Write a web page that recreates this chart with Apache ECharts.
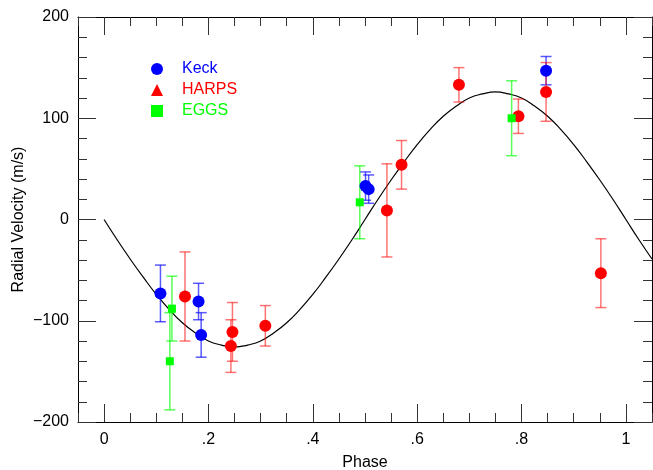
<!DOCTYPE html>
<html>
<head>
<meta charset="utf-8">
<script src="https://cdn.jsdelivr.net/npm/echarts@6/dist/echarts.min.js"></script>
<style>
html,body{margin:0;padding:0;background:#fff;}
#chart{width:653px;height:470px;}
</style>
</head>
<body>
<div id="chart"></div>
<script>
// ---- data ----
var keckPhase = [0.108, 0.181, 0.186, 0.501, 0.507, 0.847];
var keckRV    = [-73, -81, -114, 33, 30, 147];
var keckErr   = [28, 18, 22, 14, 14, 14];

var harpsPhase = [0.155, 0.243, 0.246, 0.309, 0.542, 0.570, 0.680, 0.794, 0.847, 0.952];
var harpsRV    = [-76, -125, -111, -105, 9, 54, 133, 102, 126, -53];
var harpsErr   = [44, 26, 29, 20, 46, 24, 17, 17, 29, 34];

var eggsPhase = [0.126, 0.130, 0.490, 0.781];
var eggsRV    = [-140, -88, 17, 100];
var eggsErr   = [48, 32, 36, 37];

var modelPhase = [0, 0.025, 0.05, 0.075, 0.1, 0.125, 0.15, 0.175, 0.2, 0.225, 0.25, 0.275, 0.3, 0.325, 0.35, 0.375, 0.4, 0.425, 0.45, 0.475, 0.5, 0.525, 0.55, 0.575, 0.6, 0.625, 0.65, 0.675, 0.7, 0.725, 0.75, 0.775, 0.8, 0.825, 0.85, 0.875, 0.9, 0.925, 0.95, 0.975, 1.0, 1.025, 1.05];
var modelRV    = [0, -20, -39, -57, -74, -89, -102, -112, -120, -124, -126, -124, -120, -112, -102, -89, -74, -57, -39, -20, 0, 20, 39, 57, 74, 89, 102, 112, 120, 124, 126, 124, 120, 112, 102, 89, 74, 57, 39, 20, 0, -20, -39];

var xMajorTicks = [0, 0.2, 0.4, 0.6, 0.8, 1];
var xTickLabels = ['0', '.2', '.4', '.6', '.8', '1'];

// ---- helpers ----
function zip(a, b) { return a.map(function (v, i) { return [v, b[i]]; }); }
function errData(p, v, e) { return p.map(function (x, i) { return [x, v[i] - e[i], v[i] + e[i]]; }); }

var FONT = "'Liberation Sans', Arial, sans-serif";

function errSeries(name, p, v, e, color) {
  return {
    name: name + ' err',
    type: 'custom',
    xAxisIndex: 0, yAxisIndex: 0,
    z: 2,
    silent: true,
    data: errData(p, v, e),
    renderItem: function (params, api) {
      var lo = api.coord([api.value(0), api.value(1)]);
      var hi = api.coord([api.value(0), api.value(2)]);
      var hw = 5.5;
      var st = { stroke: color, lineWidth: 1.5 };
      return {
        type: 'group',
        children: [
          { type: 'line', shape: { x1: lo[0], y1: lo[1], x2: hi[0], y2: hi[1] }, style: st },
          { type: 'line', shape: { x1: lo[0] - hw, y1: lo[1], x2: lo[0] + hw, y2: lo[1] }, style: st },
          { type: 'line', shape: { x1: hi[0] - hw, y1: hi[1], x2: hi[0] + hw, y2: hi[1] }, style: st }
        ]
      };
    }
  };
}

var labelMap = {};
xMajorTicks.forEach(function (t, i) { labelMap[t.toFixed(2)] = xTickLabels[i]; });

function xAxisCfg(pos, major, showLabel) {
  var cfg = {
    type: 'value', min: -0.05, max: 1.05, position: pos,
    axisLine: { show: major, onZero: false, lineStyle: { color: '#000', width: 1 } },
    splitLine: { show: false },
    axisTick: { inside: true, length: major ? 18 : 9, lineStyle: { color: '#333', width: 1 } },
    axisLabel: { show: false }
  };
  if (major) {
    cfg.axisTick.customValues = xMajorTicks;
    if (showLabel) {
      cfg.axisLabel = {
        show: true, customValues: xMajorTicks, margin: 10,
        fontFamily: FONT, fontSize: 16, color: '#000',
        formatter: function (v) { return labelMap[Number(v).toFixed(2)]; }
      };
      cfg.name = 'Phase';
      cfg.nameLocation = 'middle';
      cfg.nameGap = 33;
      cfg.nameMoveOverlap = false;
      cfg.nameTextStyle = { fontFamily: FONT, fontSize: 16, color: '#000' };
    }
  } else {
    cfg.interval = 0.05;
  }
  return cfg;
}

function yAxisCfg(pos, showLabel) {
  var cfg = {
    type: 'value', min: -200, max: 200, interval: 100, position: pos,
    axisLine: { show: true, onZero: false, lineStyle: { color: '#000', width: 1 } },
    splitLine: { show: false },
    axisTick: { inside: true, length: 18, lineStyle: { color: '#333', width: 1 } },
    minorTick: { show: true, splitNumber: 5, length: 9, lineStyle: { color: '#333', width: 1 } },
    minorSplitLine: { show: false },
    axisLabel: { show: false }
  };
  if (showLabel) {
    cfg.axisLabel = {
      show: true, margin: 9, fontFamily: FONT, fontSize: 16, color: '#000',
      formatter: function (v) { return String(v).replace('-', '\u2212'); }
    };
    cfg.name = 'Radial Velocity (m/s)';
    cfg.nameLocation = 'middle';
    cfg.nameGap = 51;
    cfg.nameMoveOverlap = false;
    cfg.nameTextStyle = { fontFamily: FONT, fontSize: 16, color: '#000' };
  }
  return cfg;
}

var chart = echarts.init(document.getElementById('chart'), null, { renderer: 'canvas' });
chart.setOption({
  animation: false,
  backgroundColor: '#fff',
  grid: { left: 78, right: 1, top: 17, bottom: 48, containLabel: false, outerBoundsMode: 'none' },
  xAxis: [
    xAxisCfg('bottom', true, true),
    xAxisCfg('bottom', false, false),
    xAxisCfg('top', true, false),
    xAxisCfg('top', false, false)
  ],
  yAxis: [
    yAxisCfg('left', true),
    yAxisCfg('right', false)
  ],
  legend: {
    orient: 'vertical',
    left: 146, top: 56,
    itemWidth: 12, itemHeight: 12, itemGap: 5,
    textStyle: { fontFamily: FONT, fontSize: 16, padding: [0, 0, 0, 14] },
    data: [
      { name: 'Keck', icon: 'circle', textStyle: { color: '#0000ff' } },
      { name: 'HARPS', icon: 'triangle', textStyle: { color: '#ff0000' } },
      { name: 'EGGS', icon: 'rect', textStyle: { color: '#00ff00' } }
    ],
    selectedMode: false
  },
  series: [
    {
      name: 'model', type: 'line', xAxisIndex: 0, yAxisIndex: 0,
      data: zip(modelPhase, modelRV), showSymbol: false, smooth: true,
      lineStyle: { color: '#000', width: 1.2 }, z: 1, silent: true
    },
    errSeries('Keck', keckPhase, keckRV, keckErr, 'rgba(0,0,255,0.65)'),
    errSeries('HARPS', harpsPhase, harpsRV, harpsErr, 'rgba(255,0,0,0.55)'),
    errSeries('EGGS', eggsPhase, eggsRV, eggsErr, 'rgba(0,255,0,0.65)'),
    {
      name: 'Keck', type: 'scatter', xAxisIndex: 0, yAxisIndex: 0,
      data: zip(keckPhase, keckRV), symbol: 'circle', symbolSize: 12,
      itemStyle: { color: '#0000ff', opacity: 1 }, z: 3
    },
    {
      name: 'HARPS', type: 'scatter', xAxisIndex: 0, yAxisIndex: 0,
      data: zip(harpsPhase, harpsRV), symbol: 'circle', symbolSize: 12,
      itemStyle: { color: '#ff0000', opacity: 1 }, z: 3
    },
    {
      name: 'EGGS', type: 'scatter', xAxisIndex: 0, yAxisIndex: 0,
      data: zip(eggsPhase, eggsRV), symbol: 'rect', symbolSize: 8,
      itemStyle: { color: '#00ff00', opacity: 1 }, z: 3
    }
  ]
});
</script>
</body>
</html>
